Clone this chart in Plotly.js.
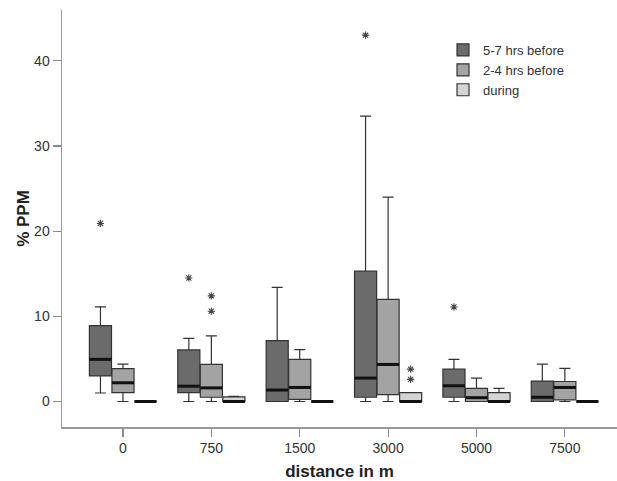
<!DOCTYPE html>
<html>
<head>
<meta charset="utf-8">
<script src="https://cdn.plot.ly/plotly-3.0.1.min.js"></script>
<style>html,body{margin:0;padding:0;background:#fff}#chart{width:617px;height:481px}</style>
</head>
<body>
<div id="chart"></div>
<script>
// ---- data ----
var categories = ["0", "750", "1500", "3000", "5000", "7500"];
var seriesNames = ["5-7 hrs before", "2-4 hrs before", "during"];

// 5-7 hrs before
var darkLower  = [1.0, 0,    0,    0,    0,    0];
var darkQ1     = [3.0, 1.05, 0,    0.5,  0.5,  0];
var darkMedian = [4.95,1.8,  1.35, 2.75, 1.85, 0.5];
var darkQ3     = [8.9, 6.05, 7.15, 15.3, 3.8,  2.4];
var darkUpper  = [11.1,7.4,  13.4, 33.5, 4.95, 4.4];
var darkOutCat = [0, 1, 3, 4];
var darkOutVal = [20.9, 14.5, 43.0, 11.1];

// 2-4 hrs before
var midLower  = [0,    0,    0,    0,    0,    0];
var midQ1     = [1.05, 0.5,  0.25, 0.8,  0,    0.2];
var midMedian = [2.2,  1.6,  1.65, 4.35, 0.45, 1.65];
var midQ3     = [3.85, 4.35, 4.95, 12.0, 1.55, 2.35];
var midUpper  = [4.4,  7.7,  6.1,  24.0, 2.75, 3.9];
var midOutCat = [1, 1];
var midOutVal = [12.4, 10.6];

// during
var lightLower  = [0, 0,    0, 0,    0,    0];
var lightQ1     = [0, 0,    0, 0,    0,    0];
var lightMedian = [0, 0,    0, 0,    0,    0];
var lightQ3     = [0, 0.55, 0, 1.05, 1.05, 0];
var lightUpper  = [0, 0.6,  0, 1.05, 1.55, 0];
var lightOutCat = [3, 3];
var lightOutVal = [3.8, 2.6];

// ---- styling ----
var fills = ["#6b6b6b", "#a3a3a3", "#d4d4d4"];
var offsets = [-0.255, 0, 0.255];
var boxW = 0.25;

var series = [
  {lo: darkLower, q1: darkQ1, md: darkMedian, q3: darkQ3, hi: darkUpper, oc: darkOutCat, ov: darkOutVal},
  {lo: midLower, q1: midQ1, md: midMedian, q3: midQ3, hi: midUpper, oc: midOutCat, ov: midOutVal},
  {lo: lightLower, q1: lightQ1, md: lightMedian, q3: lightQ3, hi: lightUpper, oc: lightOutCat, ov: lightOutVal}
];

var traces = [];
series.forEach(function (s, k) {
  var xs = categories.map(function (c, i) { return i + offsets[k]; });
  traces.push({
    type: "box",
    name: seriesNames[k],
    x: xs,
    q1: s.q1, median: s.md, q3: s.q3, lowerfence: s.lo, upperfence: s.hi,
    width: boxW,
    whiskerwidth: 0.5,
    boxpoints: false,
    fillcolor: fills[k],
    line: {color: "#333333", width: 1.2},
    hoverinfo: "skip"
  });
});
// median lines (thick black)
series.forEach(function (s, k) {
  var mx = [], my = [];
  s.md.forEach(function (m, i) {
    var c = i + offsets[k];
    mx.push(c - boxW / 2, c + boxW / 2, null);
    my.push(m, m, null);
  });
  traces.push({type: "scatter", mode: "lines", x: mx, y: my, showlegend: false,
    line: {color: "#111111", width: 3}, hoverinfo: "skip"});
});
// outliers
series.forEach(function (s, k) {
  traces.push({type: "scatter", mode: "markers", showlegend: false,
    x: s.oc.map(function (i) { return i + offsets[k]; }), y: s.ov,
    marker: {symbol: "asterisk-open", size: 6, color: "#444444", line: {color: "#444444", width: 1.1}},
    hoverinfo: "skip"});
});

var font = {family: "Liberation Sans, Arial, sans-serif", color: "#333333", size: 14};
var layout = {
  width: 617, height: 481,
  margin: {l: 62, r: 0, t: 10, b: 54},
  paper_bgcolor: "#ffffff", plot_bgcolor: "#ffffff",
  font: font,
  showlegend: true,
  boxmode: "overlay",
  legend: {x: 0.6865, y: 0.94, xanchor: "left", yanchor: "top", bgcolor: "rgba(0,0,0,0)",
    font: {family: font.family, size: 13, color: "#333"}, tracegroupgap: 0, itemwidth: 30},
  xaxis: {
    range: [-0.69, 5.59],
    tickvals: categories.map(function (c, i) { return i; }),
    ticktext: categories,
    ticks: "outside", ticklen: 8, tickcolor: "#888", tickwidth: 1.2,
    showline: true, linecolor: "#999", linewidth: 1.5,
    showgrid: false, zeroline: false,
    title: {text: "<b>distance in m</b>", font: {size: 17, color: "#222"}, standoff: 11}
  },
  yaxis: {
    range: [-2.99, 45.95],
    tickvals: [0, 10, 20, 30, 40],
    ticks: "outside", ticklen: 8, tickcolor: "#888", tickwidth: 1.2,
    showline: true, linecolor: "#999", linewidth: 1.5,
    showgrid: false, zeroline: false,
    title: {text: "<b>% PPM</b>", font: {size: 17, color: "#222"}, standoff: 0}
  }
};

Plotly.newPlot("chart", traces, layout, {staticPlot: true, displayModeBar: false});
</script>
</body>
</html>
